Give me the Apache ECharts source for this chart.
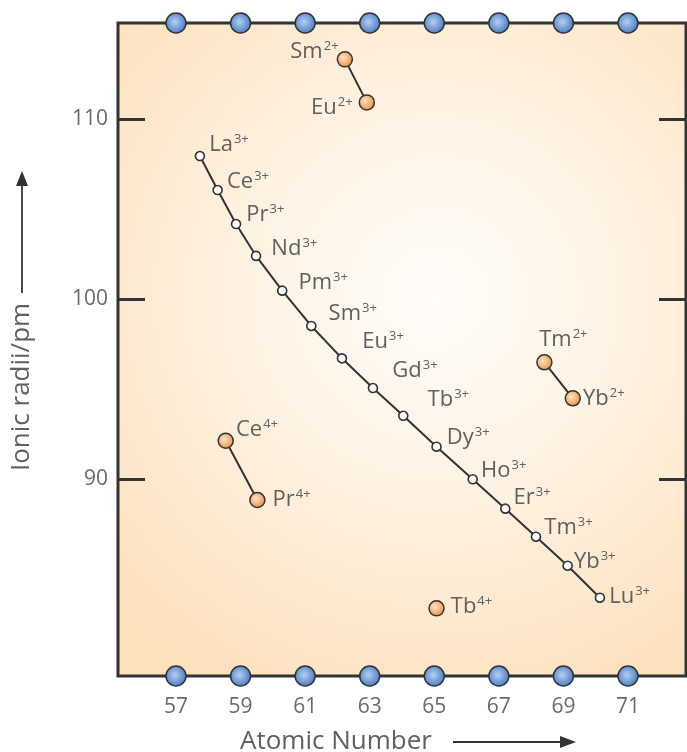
<!DOCTYPE html>
<html>
<head>
<meta charset="utf-8">
<script src="https://cdn.jsdelivr.net/npm/echarts@6/dist/echarts.min.js"></script>
<style>
html,body{margin:0;padding:0;background:#fff;}
#chart{width:687px;height:752px;}
</style>
</head>
<body>
<div id="chart"></div>
<script>
// ---- data ----
const xTickValues = [57, 59, 61, 63, 65, 67, 69, 71];
const yTickValues = [90, 100, 110];

const ln3Names = ['La','Ce','Pr','Nd','Pm','Sm','Eu','Gd','Tb','Dy','Ho','Er','Tm','Yb','Lu'];
const ln3X = [57.74, 58.29, 58.86, 59.48, 60.29, 61.19, 62.14, 63.10, 64.04, 65.07, 66.19, 67.20, 68.15, 69.13, 70.13];
const ln3Y = [107.96, 106.07, 104.18, 102.41, 100.48, 98.52, 96.72, 95.07, 93.53, 91.81, 90.00, 88.37, 86.81, 85.20, 83.42];

const smEuNames = ['Sm', 'Eu'];
const smEuX = [62.23, 62.91];
const smEuY = [113.33, 110.94];

const tmYbNames = ['Tm', 'Yb'];
const tmYbX = [68.41, 69.29];
const tmYbY = [96.50, 94.50];

const cePrNames = ['Ce', 'Pr'];
const cePrX = [58.54, 59.52];
const cePrY = [92.14, 88.85];

const tbNames = ['Tb'];
const tbX = [65.07];
const tbY = [82.83];

// ---- layout (label placement) ----
const labelPlace = {
  'La3+': ['right', [-1, -11]], 'Ce3+': ['right', [-1, -8]], 'Pr3+': ['right', [0, -9]],
  'Nd3+': ['right', [5, -7]], 'Pm3+': ['right', [6, -8]], 'Sm3+': ['right', [7, -12]],
  'Eu3+': ['right', [10, -17]], 'Gd3+': ['right', [9, -17]], 'Tb3+': ['right', [14, -16]],
  'Dy3+': ['right', [0, -9]], 'Ho3+': ['right', [-2, -9]], 'Er3+': ['right', [-2, -11]],
  'Tm3+': ['right', [-2, -9]], 'Yb3+': ['right', [-4, -4]], 'Lu3+': ['right', [-1, -1]],
  'Sm2+': ['left', [7, -8]], 'Eu2+': ['left', [-1, 5]],
  'Tm2+': ['top', [19, 3]], 'Yb2+': ['right', [-3, 0]],
  'Ce4+': ['right', [-3, -11]], 'Pr4+': ['right', [2, 0]],
  'Tb4+': ['right', [1, -2]]
};

const X0 = 57, PX0 = 176, X1 = 71, PX1 = 628;
const pxPerX = (PX1 - PX0) / (X1 - X0);
const gridL = 118, gridR = 686, gridT = 23, gridB = 676;
const xMin = X0 - (PX0 - gridL) / pxPerX;
const xMax = X1 + (gridR - PX1) / pxPerX;
const Y0 = 110, PY0 = 119.3, Y1 = 90, PY1 = 479.3;
const pxPerY = (PY1 - PY0) / (Y0 - Y1);
const yMax = Y0 + (PY0 - gridT) / pxPerY;
const yMin = Y1 - (gridB - PY1) / pxPerY;

const FONT = '"Open Sans", "Noto Sans", sans-serif';
const TXT = '#606060';

const rich = {
  m: { fontSize: 22, color: TXT, fontFamily: FONT, lineHeight: 24 },
  s: { fontSize: 13, color: TXT, fontFamily: FONT, lineHeight: 24, verticalAlign: 'top', padding: [0, 0, 0, 1] }
};

function makeItems(names, xs, ys, charge) {
  return names.map((n, i) => {
    const key = n + charge;
    const p = labelPlace[key] || ['right', [0, 0]];
    return {
      value: [xs[i], ys[i]],
      name: key,
      label: {
        show: true,
        position: p[0],
        offset: p[1],
        formatter: '{m|' + n + '}{s|' + charge + '}',
        rich: rich
      }
    };
  });
}

const orangeFill = {
  type: 'radial', x: 0.4, y: 0.4, r: 0.65,
  colorStops: [{ offset: 0, color: '#fde2c6' }, { offset: 1, color: '#ea8c3c' }]
};
const blueFill = {
  type: 'radial', x: 0.45, y: 0.45, r: 0.6,
  colorStops: [{ offset: 0, color: '#b3d0f2' }, { offset: 1, color: '#3f72bd' }]
};

function orangePair(names, xs, ys, charge) {
  return {
    type: 'line',
    data: makeItems(names, xs, ys, charge),
    symbol: 'circle',
    symbolSize: 15,
    showAllSymbol: true,
    lineStyle: { color: '#333', width: 2 },
    itemStyle: { color: orangeFill, borderColor: '#333', borderWidth: 1.5, opacity: 1 },
    z: 4
  };
}

const chart = echarts.init(document.getElementById('chart'), null, { renderer: 'canvas' });
chart.setOption({
  animation: false,
  backgroundColor: '#ffffff',
  grid: {
    left: gridL, right: 687 - gridR, top: gridT, bottom: 752 - gridB,
    show: true,
    borderColor: '#333', borderWidth: 3,
    backgroundColor: {
      type: 'radial', x: 0.56, y: 0.42, r: 0.78,
      colorStops: [
        { offset: 0, color: '#fffdfa' },
        { offset: 0.45, color: '#fff2e2' },
        { offset: 1, color: '#fde0bc' }
      ]
    }
  },
  xAxis: {
    type: 'value', min: xMin, max: xMax,
    axisLine: { show: false },
    splitLine: { show: false },
    axisTick: { show: false },
    axisLabel: {
      customValues: xTickValues, margin: 21,
      fontSize: 21, color: '#6a6a6a', fontFamily: FONT
    }
  },
  yAxis: [{
    type: 'value', min: yMin, max: yMax, position: 'left',
    axisLine: { show: false },
    splitLine: { show: false },
    axisTick: { show: true, inside: true, length: 27, customValues: yTickValues, lineStyle: { color: '#333', width: 3 } },
    axisLabel: { customValues: yTickValues, margin: 10, fontSize: 21, color: '#6a6a6a', fontFamily: FONT }
  }, {
    type: 'value', min: yMin, max: yMax, position: 'right',
    axisLine: { show: false },
    splitLine: { show: false },
    axisTick: { show: true, inside: true, length: 27, customValues: yTickValues, lineStyle: { color: '#333', width: 3 } },
    axisLabel: { show: false }
  }],
  series: [
    {
      type: 'line',
      data: makeItems(ln3Names, ln3X, ln3Y, '3+'),
      symbol: 'circle', symbolSize: 9, showAllSymbol: true,
      lineStyle: { color: '#333', width: 2 },
      itemStyle: { color: '#ffffff', borderColor: '#333', borderWidth: 1.6, opacity: 1 },
      z: 3
    },
    orangePair(smEuNames, smEuX, smEuY, '2+'),
    orangePair(tmYbNames, tmYbX, tmYbY, '2+'),
    orangePair(cePrNames, cePrX, cePrY, '4+'),
    {
      type: 'scatter',
      data: makeItems(tbNames, tbX, tbY, '4+'),
      symbol: 'circle', symbolSize: 15,
      itemStyle: { color: orangeFill, borderColor: '#333', borderWidth: 1.5, opacity: 1 },
      z: 4
    },
    {
      type: 'scatter',
      data: xTickValues.map(v => [v, yMax]).concat(xTickValues.map(v => [v, yMin])),
      symbol: 'circle', symbolSize: 20, clip: false,
      itemStyle: { color: blueFill, borderColor: '#333', borderWidth: 1.5, opacity: 1 },
      z: 10, silent: true
    }
  ],
  graphic: [
    { type: 'text', x: 240, y: 742, style: { text: 'Atomic Number', fontSize: 26, fill: TXT, fontFamily: FONT, align: 'left', verticalAlign: 'middle' } },
    { type: 'line', shape: { x1: 453, y1: 742, x2: 562, y2: 742 }, style: { stroke: '#333', lineWidth: 1.8 } },
    { type: 'polygon', shape: { points: [[576, 742], [560, 736], [560, 748]] }, style: { fill: '#333' } },
    { type: 'text', x: 22, y: 387, rotation: Math.PI / 2,
      style: { text: 'Ionic radii/pm', fontSize: 26, fill: TXT, fontFamily: FONT, align: 'center', verticalAlign: 'middle' } },
    { type: 'line', shape: { x1: 22, y1: 293, x2: 22, y2: 184 }, style: { stroke: '#333', lineWidth: 1.8 } },
    { type: 'polygon', shape: { points: [[22, 171], [16, 186], [28, 186]] }, style: { fill: '#333' } }
  ]
});
</script>
</body>
</html>
